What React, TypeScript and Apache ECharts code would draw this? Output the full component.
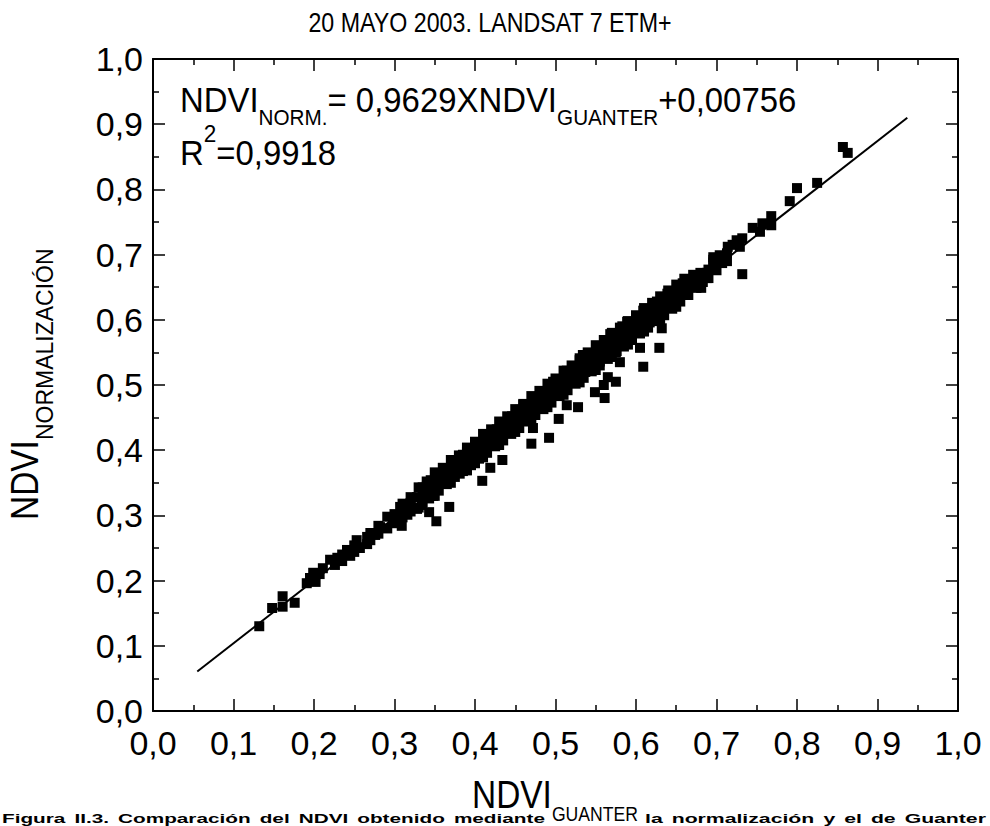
import React, { useEffect, useRef } from "react";
import * as echarts from "echarts";

// Axis ticks shared by both axes (NDVI range 0..1)
const tickValues = [0, 0.1, 0.2, 0.3, 0.4, 0.5, 0.6, 0.7, 0.8, 0.9, 1.0];

// Regression reported for the scene
const fitSlope = 0.9629;
const fitIntercept = 0.00756;
const fitRange = [0.055, 0.937];

// [NDVI Guanter, NDVI normalización] pixel samples
const lowEnd: [number, number][] = [
  [0.132, 0.130], [0.148, 0.158], [0.161, 0.176], [0.161, 0.160], [0.176, 0.166],
  [0.191, 0.196], [0.195, 0.204], [0.199, 0.212], [0.202, 0.198], [0.207, 0.210],
  [0.211, 0.219], [0.220, 0.232], [0.226, 0.224], [0.229, 0.235], [0.235, 0.230],
  [0.235, 0.240], [0.241, 0.247], [0.245, 0.238], [0.250, 0.244], [0.250, 0.254],
  [0.253, 0.262], [0.257, 0.250], [0.266, 0.267], [0.266, 0.256], [0.270, 0.262],
  [0.270, 0.273], [0.276, 0.270], [0.280, 0.284], [0.282, 0.282], [0.280, 0.272],
  [0.291, 0.280], [0.291, 0.298], [0.298, 0.288], [0.300, 0.302],
];

const bandEdges: [number, number][] = [
  [0.307, 0.313], [0.307, 0.296], [0.316, 0.301], [0.319, 0.316], [0.328, 0.328],
  [0.328, 0.310], [0.334, 0.316], [0.340, 0.344], [0.343, 0.326], [0.348, 0.330],
  [0.353, 0.345], [0.360, 0.359], [0.363, 0.349], [0.369, 0.354], [0.375, 0.375],
  [0.378, 0.380], [0.381, 0.364], [0.390, 0.370], [0.390, 0.397], [0.398, 0.400],
  [0.400, 0.380], [0.406, 0.408], [0.412, 0.418], [0.419, 0.422], [0.425, 0.410],
  [0.427, 0.432], [0.434, 0.416], [0.437, 0.440], [0.443, 0.430], [0.446, 0.452],
  [0.452, 0.437], [0.456, 0.462], [0.460, 0.470], [0.462, 0.447], [0.468, 0.462],
  [0.475, 0.477], [0.481, 0.490], [0.481, 0.466], [0.487, 0.480], [0.493, 0.492],
  [0.497, 0.505], [0.499, 0.485], [0.506, 0.508], [0.512, 0.497], [0.514, 0.522],
  [0.520, 0.520], [0.524, 0.505], [0.530, 0.538], [0.534, 0.546], [0.537, 0.520],
  [0.543, 0.538], [0.552, 0.560], [0.555, 0.536], [0.555, 0.551], [0.565, 0.548],
  [0.568, 0.578], [0.570, 0.561], [0.576, 0.552], [0.580, 0.562], [0.583, 0.590],
  [0.589, 0.597], [0.593, 0.578], [0.599, 0.590], [0.605, 0.604], [0.605, 0.582],
  [0.609, 0.614], [0.615, 0.600], [0.617, 0.596], [0.626, 0.628], [0.626, 0.604],
  [0.632, 0.623], [0.639, 0.640], [0.642, 0.630], [0.646, 0.628], [0.652, 0.646],
  [0.658, 0.656], [0.663, 0.641], [0.671, 0.669], [0.676, 0.661], [0.683, 0.658],
  [0.688, 0.672], [0.688, 0.664], [0.682, 0.662], [0.680, 0.672], [0.681, 0.649],
  [0.696, 0.688], [0.698, 0.678],
];

const bandCore: [number, number][] = [
  [0.310, 0.297], [0.310, 0.310], [0.310, 0.318],
  [0.320, 0.306], [0.320, 0.319], [0.320, 0.328],
  [0.335, 0.320], [0.335, 0.332], [0.335, 0.343],
  [0.345, 0.330], [0.345, 0.342], [0.345, 0.354],
  [0.355, 0.338], [0.355, 0.351], [0.355, 0.362],
  [0.365, 0.348], [0.365, 0.360], [0.365, 0.371],
  [0.375, 0.359], [0.375, 0.371], [0.375, 0.383],
  [0.385, 0.368], [0.385, 0.380], [0.385, 0.393],
  [0.395, 0.377], [0.395, 0.390], [0.395, 0.402],
  [0.405, 0.387], [0.405, 0.399], [0.405, 0.412],
  [0.415, 0.396], [0.415, 0.409], [0.415, 0.421],
  [0.425, 0.406], [0.425, 0.419], [0.425, 0.431],
  [0.435, 0.415], [0.435, 0.428], [0.435, 0.441],
  [0.445, 0.425], [0.445, 0.438], [0.445, 0.450],
  [0.455, 0.434], [0.455, 0.447], [0.455, 0.460],
  [0.465, 0.444], [0.465, 0.457], [0.465, 0.469],
  [0.475, 0.454], [0.475, 0.466], [0.475, 0.479],
  [0.485, 0.463], [0.485, 0.476], [0.485, 0.489],
  [0.495, 0.473], [0.495, 0.486], [0.495, 0.498],
  [0.505, 0.483], [0.505, 0.495], [0.505, 0.508],
  [0.515, 0.492], [0.515, 0.505], [0.515, 0.518],
  [0.525, 0.502], [0.525, 0.515], [0.525, 0.527],
  [0.535, 0.511], [0.535, 0.524], [0.535, 0.537],
  [0.545, 0.521], [0.545, 0.534], [0.545, 0.547],
  [0.555, 0.530], [0.555, 0.543], [0.555, 0.556],
  [0.565, 0.540], [0.565, 0.553], [0.565, 0.566],
  [0.575, 0.550], [0.575, 0.563], [0.575, 0.576],
  [0.585, 0.559], [0.585, 0.572], [0.585, 0.585],
  [0.595, 0.569], [0.595, 0.582], [0.595, 0.595],
  [0.605, 0.579], [0.605, 0.592], [0.605, 0.605],
  [0.615, 0.588], [0.615, 0.601], [0.615, 0.614],
  [0.625, 0.598], [0.625, 0.611], [0.625, 0.624],
  [0.635, 0.607], [0.635, 0.620], [0.635, 0.633],
  [0.645, 0.617], [0.645, 0.630], [0.645, 0.642],
  [0.655, 0.628], [0.655, 0.640], [0.655, 0.652],
  [0.665, 0.638], [0.665, 0.650], [0.665, 0.661],
  [0.675, 0.649], [0.675, 0.661],
  [0.690, 0.664], [0.690, 0.677],
  [0.700, 0.676], [0.700, 0.688],
];

// Upper and lower fringes of the dense cloud
const bandUpper: [number, number][] = [
  [0.330, 0.343], [0.340, 0.352], [0.350, 0.366], [0.360, 0.373], [0.370, 0.385],
  [0.380, 0.392], [0.390, 0.404], [0.400, 0.413], [0.410, 0.425], [0.420, 0.432],
  [0.430, 0.444], [0.440, 0.452], [0.450, 0.463], [0.460, 0.471], [0.470, 0.483],
  [0.480, 0.491], [0.490, 0.502], [0.500, 0.510], [0.510, 0.522], [0.520, 0.530],
  [0.530, 0.541], [0.540, 0.550], [0.550, 0.561], [0.560, 0.569], [0.570, 0.580],
  [0.580, 0.588], [0.590, 0.598], [0.600, 0.607], [0.610, 0.618], [0.620, 0.626],
  [0.630, 0.636], [0.640, 0.645], [0.650, 0.654], [0.660, 0.663],
];

const bandLower: [number, number][] = [
  [0.330, 0.312], [0.350, 0.330], [0.370, 0.350], [0.390, 0.369], [0.410, 0.389],
  [0.430, 0.408], [0.450, 0.428], [0.470, 0.446], [0.490, 0.466], [0.510, 0.485],
  [0.530, 0.504], [0.550, 0.523], [0.570, 0.543], [0.590, 0.562], [0.610, 0.582],
  [0.630, 0.601], [0.650, 0.620],
];

const outliers: [number, number][] = [
  [0.309, 0.284], [0.343, 0.305], [0.352, 0.291], [0.368, 0.313], [0.409, 0.353],
  [0.419, 0.373], [0.434, 0.385], [0.470, 0.410], [0.472, 0.434], [0.492, 0.419],
  [0.504, 0.448], [0.514, 0.469], [0.528, 0.466], [0.549, 0.489], [0.560, 0.500],
  [0.561, 0.480], [0.565, 0.512], [0.575, 0.505], [0.580, 0.535], [0.605, 0.557],
  [0.609, 0.528], [0.629, 0.557], [0.632, 0.587], [0.732, 0.670],
];

const highEnd: [number, number][] = [
  [0.696, 0.696], [0.696, 0.692], [0.704, 0.699], [0.707, 0.687], [0.713, 0.702],
  [0.713, 0.690], [0.714, 0.712], [0.720, 0.715], [0.725, 0.722], [0.729, 0.712],
  [0.732, 0.725], [0.745, 0.741], [0.754, 0.735], [0.757, 0.748], [0.768, 0.759],
  [0.768, 0.745], [0.791, 0.782], [0.800, 0.802], [0.825, 0.810], [0.857, 0.865],
  [0.863, 0.856],
];

// Figure caption, split around the axis subscript
const captionLeft = ["Figura", "II.3.", "Comparación", "del", "NDVI", "obtenido", "mediante"];
const captionRight = ["la", "normalización", "y", "el", "de", "Guanter"];

const FONT = '"Liberation Sans", Arial, Helvetica, sans-serif';
const CENTRAL = 0.3465; // distance from the central baseline to the alphabetic one, in em

function textWidth(text: string, size: number, weight = "normal"): number {
  const ctx = document.createElement("canvas").getContext("2d");
  if (!ctx) return text.length * size * 0.55;
  ctx.font = `${weight} ${size}px ${FONT}`;
  return ctx.measureText(text).width;
}

type Run = { text: string; size: number; shift: number; sx?: number };

function textEl(text: string, x: number, baseline: number, size: number, sx: number, weight: string): any {
  return {
    type: "text",
    x,
    y: baseline - CENTRAL * size,
    scaleX: sx,
    silent: true,
    style: {
      text,
      font: `${weight} ${size}px ${FONT}`,
      fill: "#000",
      textAlign: "left",
      textVerticalAlign: "middle",
    },
  };
}

// Lays out text pieces on a common baseline; shift moves a piece down (subscript) or up (superscript)
function runs(list: Run[], x0: number, baseline: number, weight = "normal"): any[] {
  let x = x0;
  return list.map((r) => {
    const sx = r.sx ?? 1;
    const el = textEl(r.text, x, baseline + r.shift, r.size, sx, weight);
    x += textWidth(r.text, r.size, weight) * sx;
    return el;
  });
}

// Bold words spread between x0 and x1 with a fixed gap, widened to fill the span
function justify(words: string[], x0: number, x1: number, baseline: number, size: number, gap: number): any[] {
  const natural = words.map((w) => textWidth(w, size, "bold"));
  const total = natural.reduce((a, b) => a + b, 0);
  const sx = (x1 - x0 - gap * (words.length - 1)) / total;
  let x = x0;
  return words.map((w, i) => {
    const el = textEl(w, x, baseline, size, sx, "bold");
    x += natural[i] * sx + gap;
    return el;
  });
}

const fmt = (v: number) => v.toFixed(1).replace(".", ",");

export default function App() {
  const ref = useRef<HTMLDivElement>(null);

  useEffect(() => {
    if (!ref.current) return;
    const chart = echarts.init(ref.current, undefined, { renderer: "svg" });

    const points = [
      ...lowEnd, ...bandEdges, ...bandCore, ...bandUpper, ...bandLower, ...outliers, ...highEnd,
    ];
    const fitLine = fitRange.map((x) => [x, fitSlope * x + fitIntercept]);

    const axisCommon = {
      type: "value" as const,
      min: tickValues[0],
      max: tickValues[tickValues.length - 1],
      interval: 0.1,
      axisLine: { show: true, onZero: false, lineStyle: { color: "#000", width: 2 } },
      axisTick: { show: true, inside: true, length: 12, lineStyle: { color: "#000", width: 1.5 } },
      minorTick: { show: true, splitNumber: 2, length: 6, lineStyle: { color: "#000", width: 1.5 } },
      splitLine: { show: false },
      minorSplitLine: { show: false },
    };

    const equation = runs(
      [
        { text: "NDVI", size: 35, shift: 0, sx: 0.94 },
        { text: "NORM.", size: 22, shift: 13, sx: 0.94 },
        { text: "= 0,9629XNDVI", size: 35, shift: 0, sx: 0.94 },
        { text: "GUANTER", size: 22, shift: 13, sx: 0.94 },
        { text: "+0,00756", size: 35, shift: 0, sx: 0.94 },
      ],
      180,
      112
    );
    const r2 = runs(
      [
        { text: "R", size: 35, shift: 0, sx: 0.94 },
        { text: "2", size: 24, shift: -23, sx: 0.94 },
        { text: "=0,9918", size: 35, shift: 0, sx: 0.94 },
      ],
      180,
      165
    );
    const xTitle = runs(
      [
        { text: "NDVI", size: 38, shift: 0, sx: 0.88 },
        { text: "GUANTER", size: 20, shift: 13, sx: 0.88 },
      ],
      472,
      808
    );
    const yTitle = {
      type: "group",
      x: 38,
      y: 520,
      rotation: Math.PI / 2,
      children: runs(
        [
          { text: "NDVI", size: 38, shift: 0, sx: 0.88 },
          { text: "NORMALIZACIÓN", size: 23, shift: 15, sx: 1 },
        ],
        0,
        0
      ),
    };
    const caption = [
      ...justify(captionLeft, 2, 545, 823, 13, 9),
      ...justify(captionRight, 645, 986, 823, 13, 9),
    ];

    chart.setOption({
      animation: false,
      backgroundColor: "#fff",
      textStyle: { fontFamily: FONT },
      grid: { left: 153, right: 32, top: 59, bottom: 115, containLabel: false, outerBoundsMode: "none" },
      xAxis: [
        {
          ...axisCommon,
          position: "bottom",
          axisLabel: { show: true, margin: 15, fontSize: 34, color: "#000", fontFamily: FONT, formatter: fmt },
        },
        { ...axisCommon, position: "top", axisLabel: { show: false } },
      ],
      yAxis: [
        {
          ...axisCommon,
          position: "left",
          axisLabel: { show: true, margin: 10, fontSize: 34, color: "#000", fontFamily: FONT, formatter: fmt },
        },
        { ...axisCommon, position: "right", axisLabel: { show: false } },
      ],
      graphic: [
        {
          type: "text",
          x: 490,
          y: 22,
          scaleX: 0.86,
          silent: true,
          style: {
            text: "20 MAYO 2003. LANDSAT 7 ETM+",
            font: `27px ${FONT}`,
            fill: "#000",
            textAlign: "center",
            textVerticalAlign: "middle",
          },
        },
        ...equation,
        ...r2,
        ...xTitle,
        yTitle,
        ...caption,
      ],
      series: [
        {
          type: "line",
          xAxisIndex: 0,
          yAxisIndex: 0,
          data: fitLine,
          showSymbol: false,
          silent: true,
          lineStyle: { color: "#000", width: 2 },
          z: 1,
        },
        {
          type: "scatter",
          xAxisIndex: 0,
          yAxisIndex: 0,
          data: points,
          symbol: "rect",
          symbolSize: 10,
          itemStyle: { color: "#000", opacity: 1 },
          z: 2,
        },
      ],
    });

    return () => chart.dispose();
  }, []);

  return (
    <div
      ref={ref}
      style={{ position: "fixed", left: 0, top: 0, width: 990, height: 826, background: "#fff" }}
    />
  );
}
